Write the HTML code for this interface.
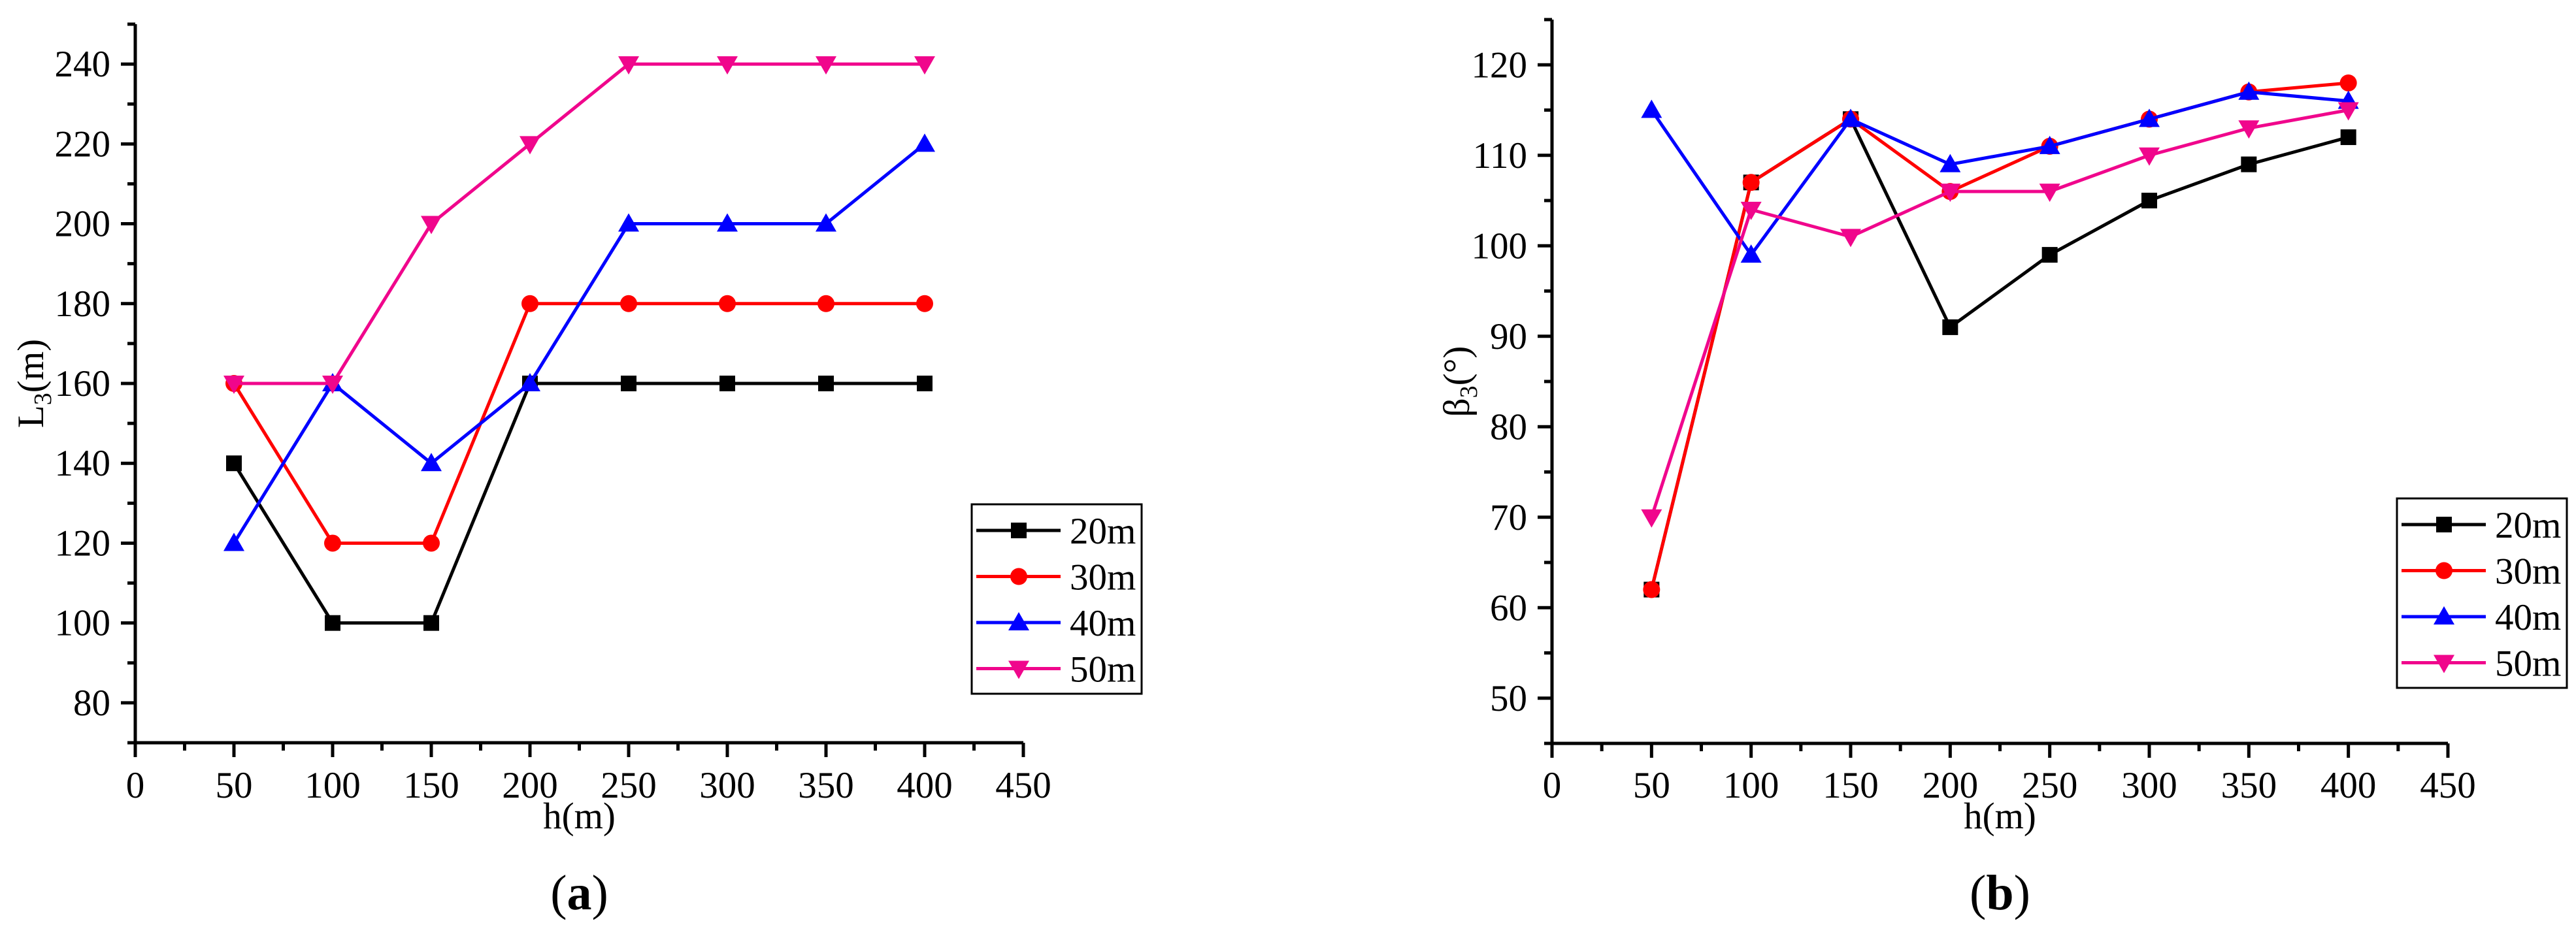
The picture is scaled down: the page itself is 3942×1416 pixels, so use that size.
<!DOCTYPE html>
<html><head><meta charset="utf-8"><style>
html,body{margin:0;padding:0;background:#fff;}
svg{display:block;font-family:"Liberation Serif",serif;}
</style></head><body>
<svg id="fig" width="3942" height="1416" viewBox="0 0 3942 1416" xmlns="http://www.w3.org/2000/svg"></svg>
<script>
const hValues = [50,100,150,200,250,300,350,400];
const seriesNames = ["20m","30m","40m","50m"];
const L3_20 = [140,100,100,160,160,160,160,160];
const L3_30 = [160,120,120,180,180,180,180,180];
const L3_40 = [120,160,140,160,200,200,200,220];
const L3_50 = [160,160,200,220,240,240,240,240];
const B3_20 = [62,107,114,91,99,105,109,112];
const B3_30 = [62,107,114,106,111,114,117,118];
const B3_40 = [115,99,114,109,111,114,117,116];
const B3_50 = [70,104,101,106,106,110,113,115];
const xTicks = [0,50,100,150,200,250,300,350,400,450];
const yTicksA = [80,100,120,140,160,180,200,220,240];
const yTicksB = [50,60,70,80,90,100,110,120];

const colors = ["#000000","#ff0000","#0000ff","#f0068c"];
const shapes = ["square","circle","up","down"];
const NS = "http://www.w3.org/2000/svg";
const svg = document.getElementById("fig");
function mk(tag, attrs, parent){
  const e = document.createElementNS(NS, tag);
  for (const k in attrs) e.setAttribute(k, attrs[k]);
  (parent||svg).appendChild(e);
  return e;
}
function marker(g, shape, cx, cy, col){
  let m;
  if (shape==="square") m = mk("rect",{x:cx-12,y:cy-12,width:24,height:24,fill:col},g);
  else if (shape==="circle") m = mk("circle",{cx:cx,cy:cy,r:13,fill:col},g);
  else if (shape==="up") m = mk("polygon",{points:`${cx},${cy-16} ${cx+16},${cy+12} ${cx-16},${cy+12}`,fill:col},g);
  else m = mk("polygon",{points:`${cx},${cy+16} ${cx+16},${cy-12} ${cx-16},${cy-12}`,fill:col},g);
  return m;
}
function chart(cfg){
  const {x0,x1,yTop,yBot,ymin,ymax,yTicks,minorStep,data,ytitle,ytitleX,label,legX,legY,name} = cfg;
  const g = mk("g",{});
  
  
  const sx = v => x0 + (v-0)/(450-0)*(x1-x0);
  const sy = v => yBot - (v-ymin)/(ymax-ymin)*(yBot-yTop);
  // axes
  const ax = mk("g",{},g);
  
  
  mk("line",{x1:x0,y1:yTop,x2:x0,y2:yBot,stroke:"#000","stroke-width":5},ax);
  mk("line",{x1:x0-11,y1:yBot,x2:x1,y2:yBot,stroke:"#000","stroke-width":5},ax);
  mk("line",{x1:x0-11,y1:yTop,x2:x0,y2:yTop,stroke:"#000","stroke-width":5},ax);
  // x ticks
  for (let v=0; v<=450; v+=25){
    const major = v%50===0;
    mk("line",{x1:sx(v),y1:yBot,x2:sx(v),y2:yBot+(major?22:12),stroke:"#000","stroke-width":5},ax);
  }
  xTicks.forEach(v=>{
    const t = mk("text",{x:sx(v),y:1221,"font-size":57,"text-anchor":"middle"},g);
    t.textContent = v;
    
    
  });
  // y ticks
  for (let v=ymin+(minorStep- (ymin%minorStep))%minorStep; v<=ymax; v+=minorStep){
    const major = yTicks.includes(v);
    mk("line",{x1:x0-(major?22:12),y1:sy(v),x2:x0,y2:sy(v),stroke:"#000","stroke-width":5},ax);
  }
  yTicks.forEach(v=>{
    const t = mk("text",{x:x0-38,y:sy(v)+19,"font-size":57,"text-anchor":"end"},g);
    t.textContent = v;
    
    
  });
  // titles
  const xt = mk("text",{x:(x0+x1)/2,y:1268,"font-size":57,"text-anchor":"middle"},g);
  xt.textContent = "h(m)";
  
  
  const yt = mk("text",{x:0,y:0,"font-size":57,"text-anchor":"middle",transform:`translate(${ytitleX},${(yTop+yBot)/2}) rotate(-90)`},g);
  yt.innerHTML = ytitle;
  
  
  const lb = mk("text",{x:(x0+x1)/2,y:1392,"font-size":76,"text-anchor":"middle"},g);
  lb.innerHTML = `(<tspan font-weight="bold">${label}</tspan>)`;
  
  
  // series
  data.forEach((arr,i)=>{
    const sg = mk("g",{},g);
    
    
    const pts = arr.map((v,j)=>`${sx(hValues[j])},${sy(v)}`).join(" ");
    const pl = mk("polyline",{points:pts,fill:"none",stroke:colors[i],"stroke-width":5,"stroke-linejoin":"round"},sg);
    
    
    arr.forEach((v,j)=>{
      const m = marker(sg, shapes[i], sx(hValues[j]), sy(v), colors[i]);
      
      
    });
  });
  // legend
  const lg = mk("g",{},g);
  
  
  mk("rect",{x:legX,y:legY,width:260,height:290,fill:"#fff",stroke:"#000","stroke-width":3},lg);
  seriesNames.forEach((n,i)=>{
    const ey = legY+40+i*70.5;
    const eg = mk("g",{},lg);
    
    
    mk("line",{x1:legX+7,y1:ey,x2:legX+136,y2:ey,stroke:colors[i],"stroke-width":5},eg);
    marker(eg, shapes[i], legX+72, ey, colors[i]);
    const t = mk("text",{x:legX+150,y:ey+20,"font-size":57},eg);
    t.textContent = n;
  });
}
chart({name:"chart-a",x0:207,x1:1566,yTop:37,yBot:1137,ymin:70,ymax:250,yTicks:yTicksA,minorStep:10,
  data:[L3_20,L3_30,L3_40,L3_50],ytitle:'L<tspan font-size="38" dy="12">3</tspan><tspan dy="-12">(m)</tspan>',ytitleX:66,label:"a",legX:1487,legY:772});
chart({name:"chart-b",x0:2375,x1:3746,yTop:30,yBot:1138,ymin:45,ymax:125,yTicks:yTicksB,minorStep:5,
  data:[B3_20,B3_30,B3_40,B3_50],ytitle:'β<tspan font-size="38" dy="12">3</tspan><tspan dy="-12">(°)</tspan>',ytitleX:2248,label:"b",legX:3668,legY:763});
</script>
</body></html>
